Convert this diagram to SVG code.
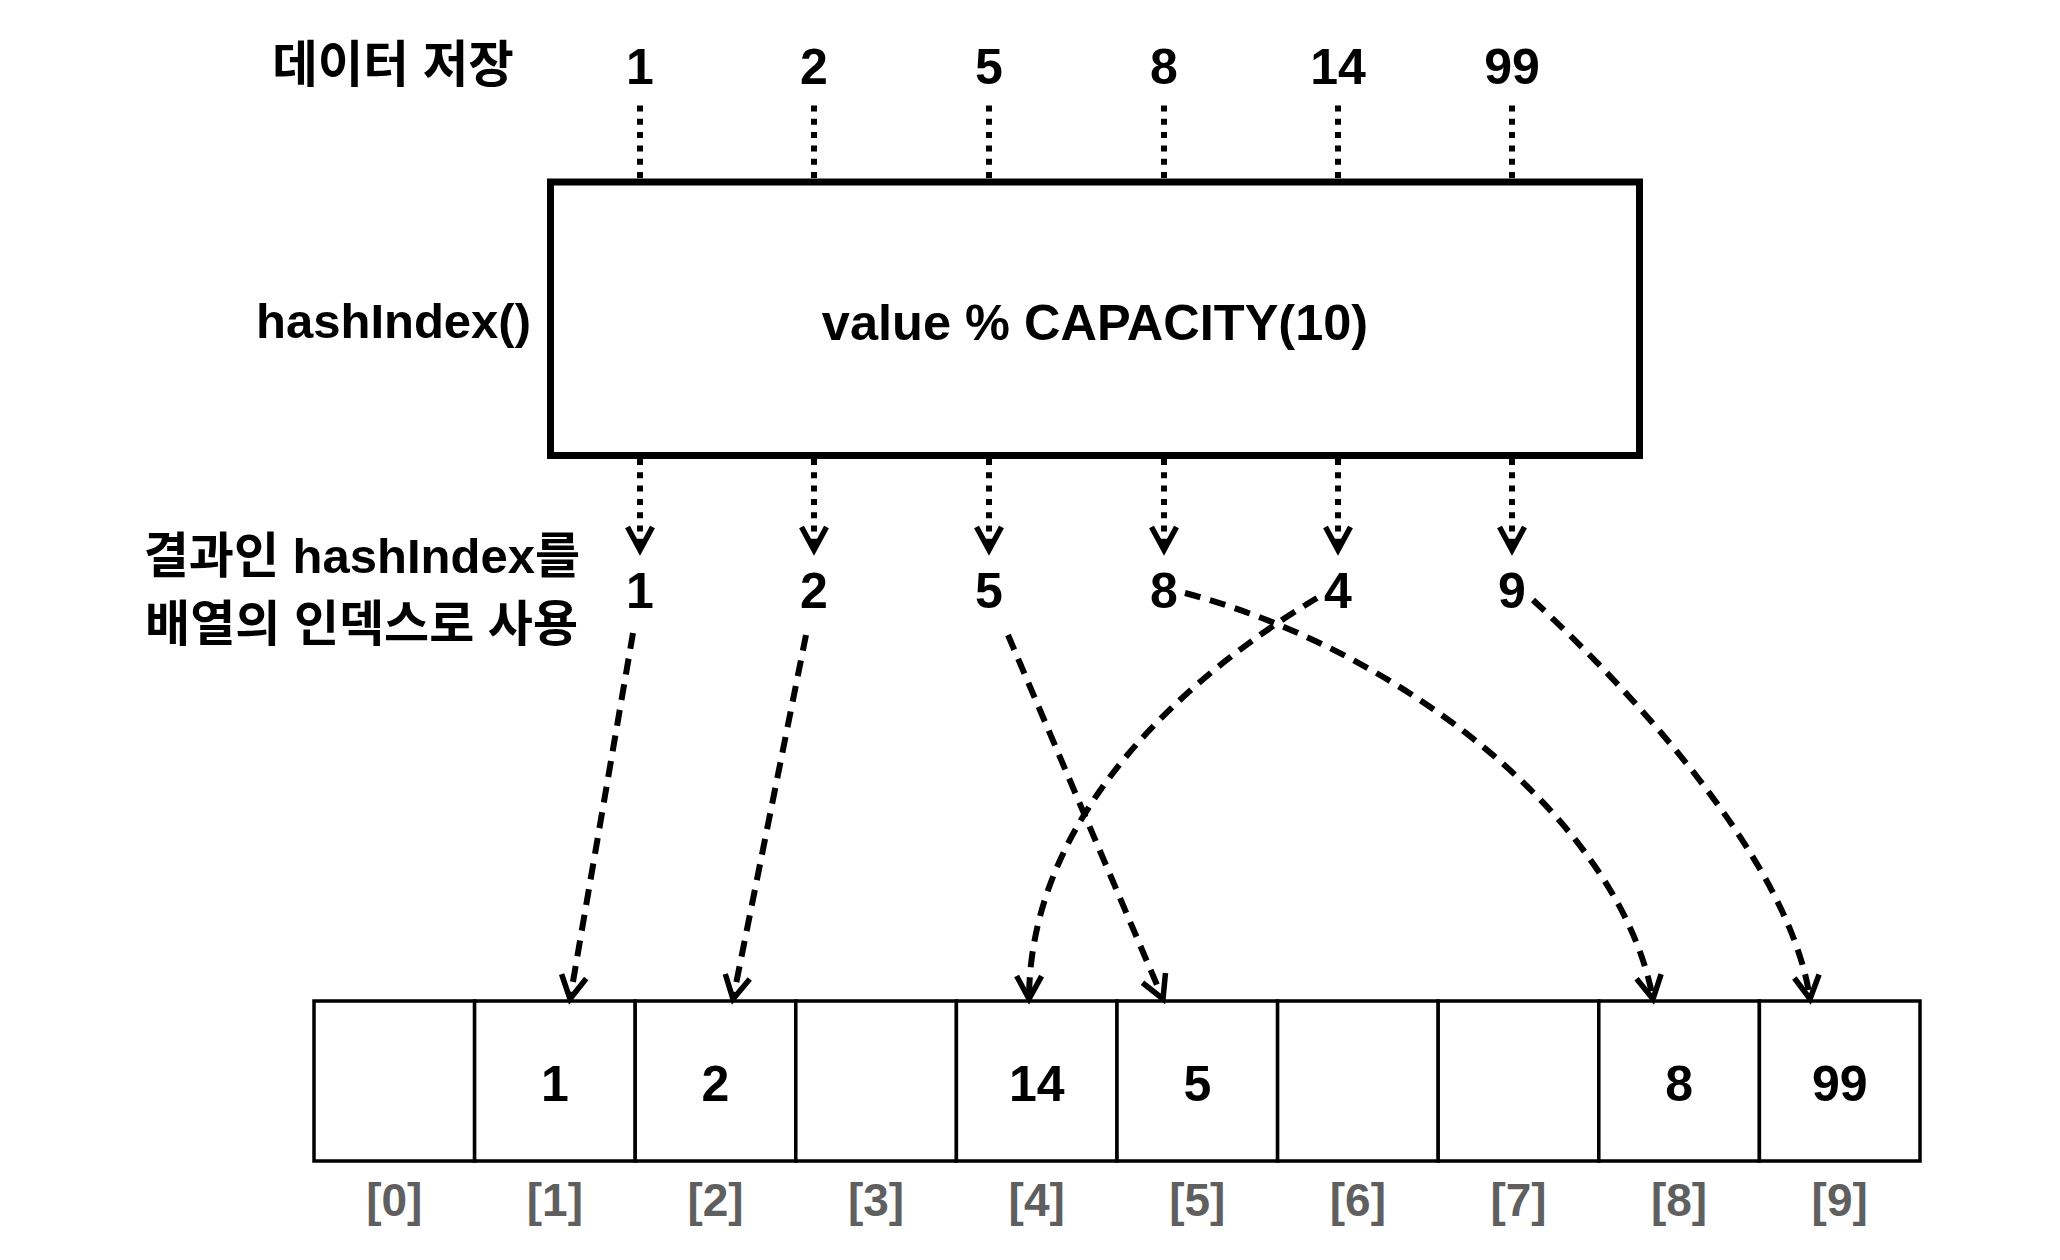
<svg xmlns="http://www.w3.org/2000/svg" width="2060" height="1260" viewBox="0 0 2060 1260">
<defs>
<style>
.t{font-family:"Liberation Sans","Noto Sans CJK KR",sans-serif;font-weight:bold;fill:#000}
.n{font-size:50px;text-anchor:middle}
.lbl{font-size:49px}
.idx{font-size:46px;fill:#5f5f5f;text-anchor:middle}
.cell{fill:#fff;stroke:#000;stroke-width:3.5}
.box{fill:#fff;stroke:#000;stroke-width:7}
.dot{fill:none;stroke:#000;stroke-width:6;stroke-dasharray:6 7.3}
.dash{fill:none;stroke:#000;stroke-width:6;stroke-dasharray:16 10}
</style>
<marker id="open" markerUnits="userSpaceOnUse" viewBox="-30 -18 34 36" refX="0" refY="0" markerWidth="34" markerHeight="36" orient="auto" overflow="visible">
<path d="M -23 -12.5 L 0 0 L -23 12.5" fill="none" stroke="#000" stroke-width="5.5" stroke-dasharray="none"/>
</marker>
</defs>
<rect x="0" y="0" width="2060" height="1260" fill="#fff"/>

<g id="label-store"><text class="t" x="393" y="82" text-anchor="middle" style="font-size:49.5px">데이터 저장</text></g>
<g id="label-hashindex"><text class="t" x="531" y="338" text-anchor="end" style="font-size:49px">hashIndex()</text></g>
<g id="label-result">
<text class="t lbl" x="580" y="573" text-anchor="end">결과인 hashIndex를</text>
<text class="t lbl" x="578" y="641" text-anchor="end">배열의 인덱스로 사용</text>
</g>

<g id="inputs">
<g id="in-1"><text class="t n" x="640" y="84">1</text></g>
<g id="in-2"><text class="t n" x="814" y="84">2</text></g>
<g id="in-5"><text class="t n" x="989" y="84">5</text></g>
<g id="in-8"><text class="t n" x="1164" y="84">8</text></g>
<g id="in-14"><text class="t n" x="1338" y="84">14</text></g>
<g id="in-99"><text class="t n" x="1512" y="84">99</text></g>
</g>

<g id="hash-box">
<rect class="box" x="550.5" y="182" width="1089" height="273.5"/>
<text class="t" x="1095" y="340" text-anchor="middle" style="font-size:50.5px">value % CAPACITY(10)</text>
</g>

<g id="results">
<g id="out-1"><text class="t n" x="640" y="608">1</text></g>
<g id="out-2"><text class="t n" x="814" y="608">2</text></g>
<g id="out-5"><text class="t n" x="989" y="608">5</text></g>
<g id="out-8"><text class="t n" x="1164" y="608">8</text></g>
<g id="out-4"><text class="t n" x="1338" y="608">4</text></g>
<g id="out-9"><text class="t n" x="1512" y="608">9</text></g>
</g>

<g id="array">
<g id="cell-0"><rect class="cell" x="314" y="1001" width="160.6" height="160"/><text class="t idx" x="394.3" y="1216">[0]</text></g>
<g id="cell-1"><rect class="cell" x="474.6" y="1001" width="160.6" height="160"/><text class="t n" x="554.9" y="1101">1</text><text class="t idx" x="554.9" y="1216">[1]</text></g>
<g id="cell-2"><rect class="cell" x="635.2" y="1001" width="160.6" height="160"/><text class="t n" x="715.5" y="1101">2</text><text class="t idx" x="715.5" y="1216">[2]</text></g>
<g id="cell-3"><rect class="cell" x="795.8" y="1001" width="160.6" height="160"/><text class="t idx" x="876.1" y="1216">[3]</text></g>
<g id="cell-4"><rect class="cell" x="956.4" y="1001" width="160.6" height="160"/><text class="t n" x="1036.7" y="1101">14</text><text class="t idx" x="1036.7" y="1216">[4]</text></g>
<g id="cell-5"><rect class="cell" x="1117" y="1001" width="160.6" height="160"/><text class="t n" x="1197.3" y="1101">5</text><text class="t idx" x="1197.3" y="1216">[5]</text></g>
<g id="cell-6"><rect class="cell" x="1277.6" y="1001" width="160.6" height="160"/><text class="t idx" x="1357.9" y="1216">[6]</text></g>
<g id="cell-7"><rect class="cell" x="1438.2" y="1001" width="160.6" height="160"/><text class="t idx" x="1518.5" y="1216">[7]</text></g>
<g id="cell-8"><rect class="cell" x="1598.8" y="1001" width="160.6" height="160"/><text class="t n" x="1679.1" y="1101">8</text><text class="t idx" x="1679.1" y="1216">[8]</text></g>
<g id="cell-9"><rect class="cell" x="1759.4" y="1001" width="160.6" height="160"/><text class="t n" x="1839.7" y="1101">99</text><text class="t idx" x="1839.7" y="1216">[9]</text></g>
</g>

<g id="connectors">
<path class="dot" d="M640 178V100"/>
<path class="dot" d="M814 178V100"/>
<path class="dot" d="M989 178V100"/>
<path class="dot" d="M1164 178V100"/>
<path class="dot" d="M1338 178V100"/>
<path class="dot" d="M1512 178V100"/>
<path class="dot" d="M640 459V550" marker-end="url(#open)"/>
<path class="dot" d="M814 459V550" marker-end="url(#open)"/>
<path class="dot" d="M989 459V550" marker-end="url(#open)"/>
<path class="dot" d="M1164 459V550" marker-end="url(#open)"/>
<path class="dot" d="M1338 459V550" marker-end="url(#open)"/>
<path class="dot" d="M1512 459V550" marker-end="url(#open)"/>
<path class="dash" d="M633 633L570 999" marker-end="url(#open)"/>
<path class="dash" d="M806 635L733 999" marker-end="url(#open)"/>
<path class="dash" d="M1008 635L1163 999" marker-end="url(#open)"/>
<path class="dash" d="M1317 598C1230 650 1030 790 1029 999" marker-end="url(#open)"/>
<path class="dash" d="M1185 593C1400 650 1620 820 1653 999" marker-end="url(#open)"/>
<path class="dash" d="M1533 600C1630 690 1790 860 1810 999" marker-end="url(#open)"/>
</g>
</svg>
